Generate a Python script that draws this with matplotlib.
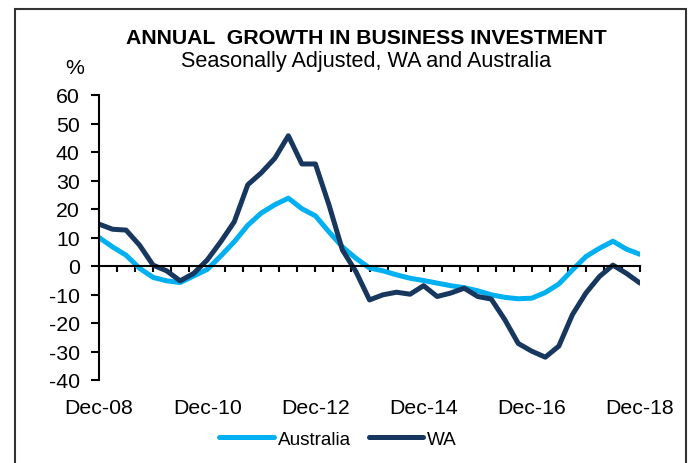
import numpy as np
import matplotlib
matplotlib.use("Agg")
import matplotlib.pyplot as plt
from matplotlib.patches import Rectangle

plt.rcParams['font.family'] = ['Liberation Sans', 'DejaVu Sans']

# Quarterly data, Dec-08 .. Dec-18 (41 quarters)
australia = [10.0, 6.7, 3.8, -0.8, -4.0, -5.2, -5.8, -3.5, -1.2, 3.5,
             8.5, 14.3, 18.6, 21.5, 23.8, 20.1, 17.6, 12.0, 6.7, 2.7,
             -0.7, -1.7, -3.1, -4.3, -5.1, -6.0, -6.9, -7.6, -8.7, -10.1,
             -11.0, -11.5, -11.3, -9.3, -6.3, -1.4, 3.3, 6.2, 8.7, 5.9, 4.1]
wa = [14.7, 12.9, 12.6, 7.3, 0.3, -1.7, -5.2, -2.6, 2.1, 8.5,
      15.5, 28.5, 32.7, 37.8, 45.7, 35.8, 35.8, 21.5, 5.6, -2.0,
      -11.9, -10.1, -9.2, -9.9, -6.9, -10.7, -9.5, -7.8, -10.7, -11.6,
      -18.8, -27.2, -29.9, -32.0, -28.1, -17.1, -9.5, -3.7, 0.3, -2.6, -6.0]
tick_labels = ["Dec-08", "Dec-10", "Dec-12", "Dec-14", "Dec-16", "Dec-18"]
y_ticks = [-40, -30, -20, -10, 0, 10, 20, 30, 40, 50, 60]

W, H = 692, 464
FS = 15.3
fig = plt.figure(figsize=(W / 100, H / 100), dpi=100)

# outer frame
fig.patches.append(Rectangle((15 / W, -0.05), (686 - 15) / W, (H - 10) / H + 0.05,
                             transform=fig.transFigure, fill=False,
                             edgecolor='#333333', linewidth=1.5))

ax = fig.add_axes([99 / W, (H - 381) / H, (640 - 99) / W, (381 - 96) / H])
x = np.arange(len(australia))
ax.plot(x, australia, color='#00B0F0', lw=3.6, solid_joinstyle='round',
        solid_capstyle='round', label='Australia')
ax.plot(x, wa, color='#17375E', lw=3.6, solid_joinstyle='round',
        solid_capstyle='round', label='WA')

ax.set_xlim(0, 40)
ax.set_ylim(-40, 60)
for s in ['top', 'right']:
    ax.spines[s].set_visible(False)
ax.spines['bottom'].set_position(('data', 0))
ax.spines['bottom'].set_linewidth(1.5)
ax.spines['left'].set_linewidth(1.5)

ax.set_yticks(y_ticks)
ax.set_yticklabels([str(v) for v in y_ticks])
ax.tick_params(axis='y', direction='out', length=6, width=1.5, labelsize=FS, pad=8)

minor = np.arange(0, 40.001, 4 / 3)
ax.set_xticks(minor)
ax.set_xticklabels([])
ax.tick_params(axis='x', direction='out', length=4, width=1.5)

sec = ax.secondary_xaxis('bottom')
sec.set_xticks(np.arange(0, 41, 8))
sec.set_xticklabels(tick_labels)
sec.tick_params(length=0, labelsize=FS, pad=13)
sec.spines['bottom'].set_visible(False)

fig.text(366 / W, 1 - 38 / H, "ANNUAL  GROWTH IN BUSINESS INVESTMENT", ha='center', va='center',
         fontsize=FS, fontweight='bold')
fig.text(366 / W, 1 - 61 / H, "Seasonally Adjusted, WA and Australia", ha='center', va='center',
         fontsize=FS + 0.3)
fig.text(75 / W, 1 - 68 / H, "%", ha='center', va='center', fontsize=FS)

fig.legend(loc='center', bbox_to_anchor=(338 / W, 24 / H), ncol=2, frameon=False,
           fontsize=13.6, handlelength=2.9, handletextpad=0.2, columnspacing=0.95)

fig.savefig("out.png", dpi=100)
